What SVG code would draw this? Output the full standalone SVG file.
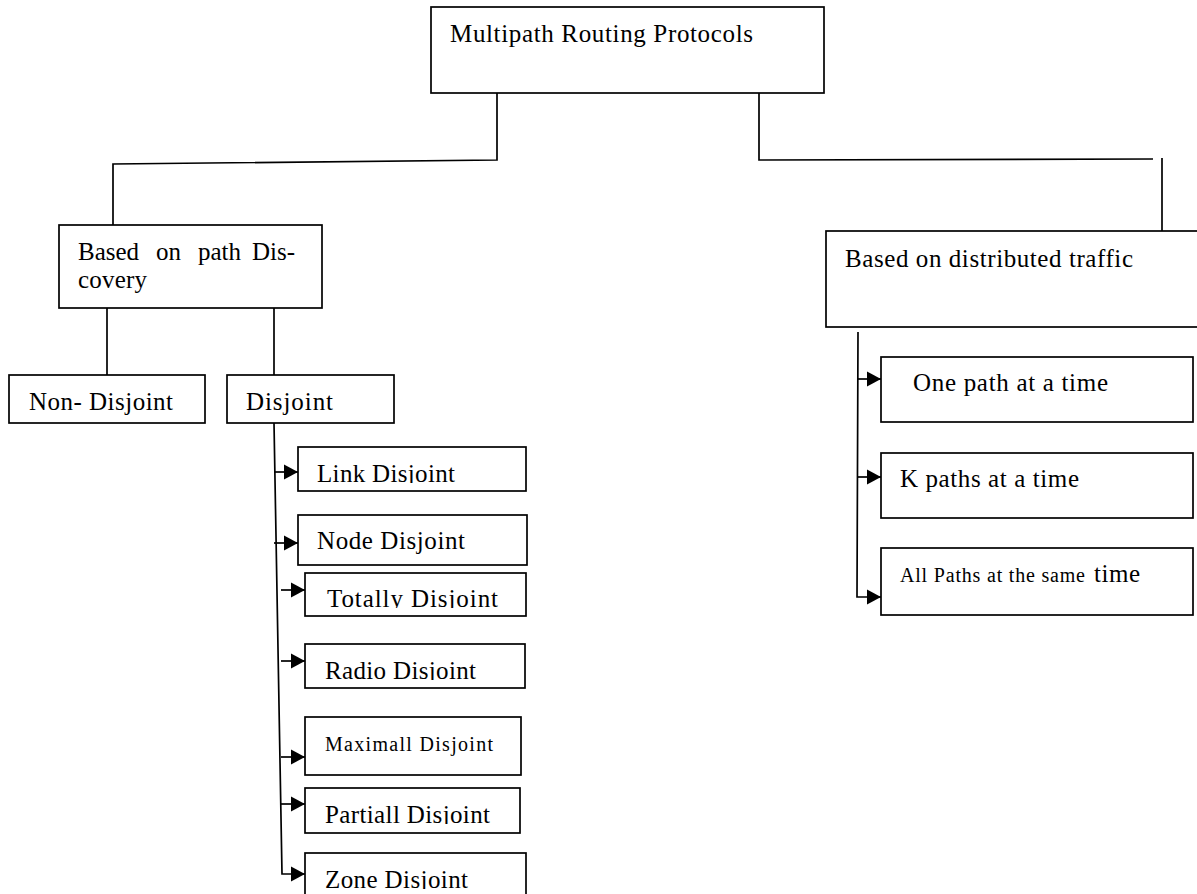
<svg xmlns="http://www.w3.org/2000/svg" width="1197" height="894" viewBox="0 0 1197 894">
<style>
.box{fill:#fff;stroke:#000;stroke-width:1.7}
.t{font-family:"Liberation Serif","Times New Roman",serif;font-size:25px;fill:#000}
.s{font-size:20px}
.c{fill:none;stroke:#000;stroke-width:1.7}
</style>
<defs>
<marker id="ah" markerUnits="userSpaceOnUse" markerWidth="16" markerHeight="16" refX="14" refY="8" orient="auto" overflow="visible">
<path d="M0,0.5 L14,8 L0,15.5 z" fill="#000"/>
</marker>
<clipPath id="cLink"><rect x="298" y="447" width="228" height="36"/></clipPath>
<clipPath id="cTot"><rect x="305" y="573" width="221" height="35"/></clipPath>
<clipPath id="cRad"><rect x="305" y="644" width="220" height="36"/></clipPath>
<clipPath id="cPar"><rect x="305" y="788" width="215" height="36"/></clipPath>
<clipPath id="cZone"><rect x="305" y="853" width="221" height="36"/></clipPath>
</defs>

<g id="connectors">
<path class="c" d="M497,93 L497,160 L113,164 L113,237"/>
<path class="c" d="M759,93 L759,160 L1153,159"/>
<path class="c" d="M1162,158 L1162,231"/>
<path class="c" d="M107,303 L107,375"/>
<path class="c" d="M274,303 L274,375"/>
<path class="c" d="M274,423 L282,874 L305,874" marker-end="url(#ah)"/>
<path class="c" d="M274,472 L298,472" marker-end="url(#ah)"/>
<path class="c" d="M274,543 L298,543" marker-end="url(#ah)"/>
<path class="c" d="M281,590 L305,590" marker-end="url(#ah)"/>
<path class="c" d="M281,661 L305,661" marker-end="url(#ah)"/>
<path class="c" d="M281,757 L305,757" marker-end="url(#ah)"/>
<path class="c" d="M281,804 L305,804" marker-end="url(#ah)"/>
<path class="c" d="M858,332 L857,597 L881,597" marker-end="url(#ah)"/>
<path class="c" d="M857,379 L881,379" marker-end="url(#ah)"/>
<path class="c" d="M857,477 L881,477" marker-end="url(#ah)"/>
</g>

<g id="root">
<rect class="box" x="431" y="7" width="393" height="86"/>
<text class="t" x="450" y="42" textLength="303" lengthAdjust="spacing">Multipath Routing Protocols</text>
</g>

<g id="path-discovery">
<rect class="box" x="59" y="225" width="263" height="83"/>
<text class="t" y="260"><tspan x="78">Based</tspan><tspan x="156">on</tspan><tspan x="198">path</tspan><tspan x="252">Dis-</tspan></text>
<text class="t" x="78" y="288" textLength="69" lengthAdjust="spacing">covery</text>
</g>

<g id="non-disjoint">
<rect class="box" x="9" y="375" width="196" height="48"/>
<text class="t" x="29" y="410" textLength="144" lengthAdjust="spacing">Non- Disjoint</text>
</g>

<g id="disjoint">
<rect class="box" x="227" y="375" width="167" height="48"/>
<text class="t" x="246" y="410" textLength="87" lengthAdjust="spacing">Disjoint</text>
</g>

<g id="link-disjoint">
<rect class="box" x="298" y="447" width="228" height="44"/>
<text class="t" x="317" y="482" textLength="138" lengthAdjust="spacing" clip-path="url(#cLink)">Link Disjoint</text>
</g>

<g id="node-disjoint">
<rect class="box" x="298" y="515" width="229" height="50"/>
<text class="t" x="317" y="549" textLength="148" lengthAdjust="spacing">Node Disjoint</text>
</g>

<g id="totally-disjoint">
<rect class="box" x="305" y="573" width="221" height="43"/>
<text class="t" x="327" y="607" textLength="171" lengthAdjust="spacing" clip-path="url(#cTot)">Totally Disjoint</text>
</g>

<g id="radio-disjoint">
<rect class="box" x="305" y="644" width="220" height="44"/>
<text class="t" x="325" y="679" textLength="151" lengthAdjust="spacing" clip-path="url(#cRad)">Radio Disjoint</text>
</g>

<g id="maximall-disjoint">
<rect class="box" x="305" y="717" width="216" height="58"/>
<text class="t s" x="325" y="751" textLength="168" lengthAdjust="spacing">Maximall Disjoint</text>
</g>

<g id="partiall-disjoint">
<rect class="box" x="305" y="788" width="215" height="45"/>
<text class="t" x="325" y="823" textLength="165" lengthAdjust="spacing" clip-path="url(#cPar)">Partiall Disjoint</text>
</g>

<g id="zone-disjoint">
<rect class="box" x="305" y="853" width="221" height="50"/>
<text class="t" x="325" y="888" textLength="143" lengthAdjust="spacing" clip-path="url(#cZone)">Zone Disjoint</text>
</g>

<g id="distributed-traffic">
<rect class="box" x="826" y="231" width="375" height="96"/>
<text class="t" x="845" y="267" textLength="288" lengthAdjust="spacing">Based on distributed traffic</text>
</g>

<g id="one-path">
<rect class="box" x="881" y="357" width="312" height="65"/>
<text class="t" x="913" y="391" textLength="195" lengthAdjust="spacing">One path at a time</text>
</g>

<g id="k-paths">
<rect class="box" x="881" y="453" width="312" height="65"/>
<text class="t" x="900" y="487" textLength="179" lengthAdjust="spacing">K paths at a time</text>
</g>

<g id="all-paths">
<rect class="box" x="881" y="548" width="312" height="67"/>
<text class="t s" x="900" y="582" textLength="185" lengthAdjust="spacing">All Paths at the same</text>
<text class="t" x="1094" y="582" font-size="24" textLength="46" lengthAdjust="spacing">time</text>
</g>
</svg>
